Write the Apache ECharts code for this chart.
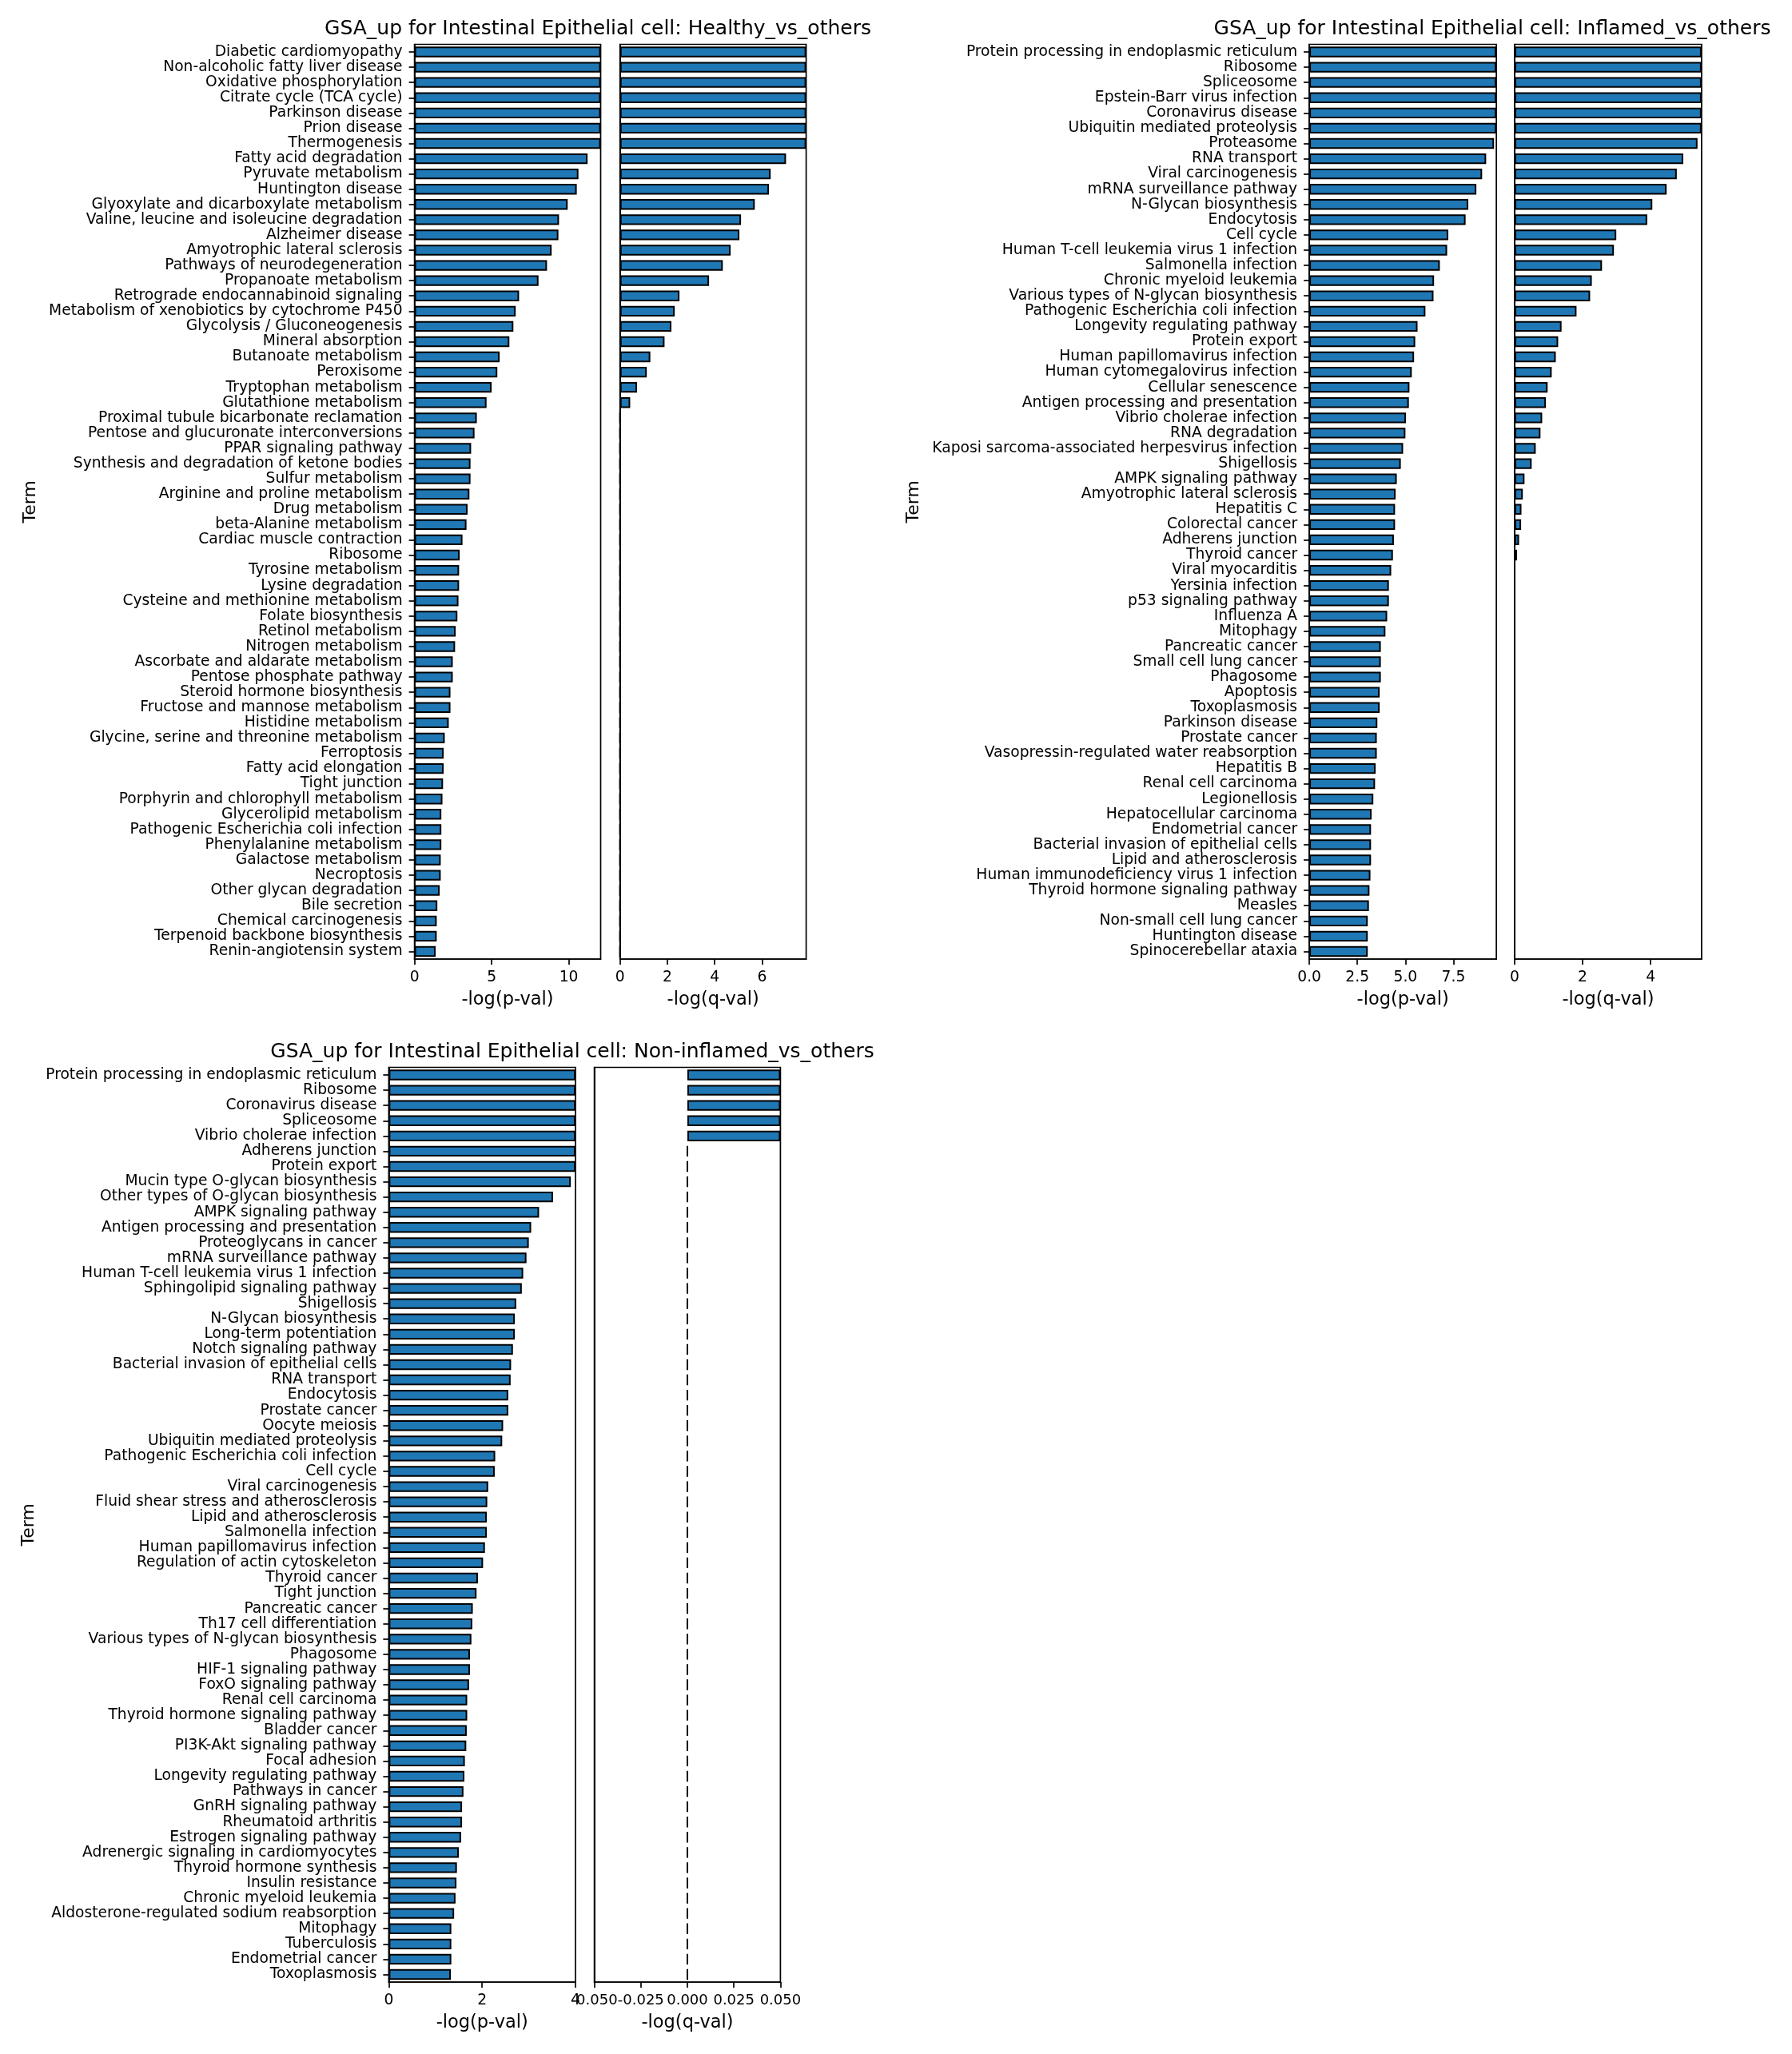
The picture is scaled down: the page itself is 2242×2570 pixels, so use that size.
<!DOCTYPE html>
<html>
<head>
<meta charset="utf-8">
<script src="https://cdn.jsdelivr.net/npm/echarts@6/dist/echarts.min.js"></script>
<style>html,body{margin:0;padding:0;background:#fff}#c{width:2242px;height:2570px}</style>
</head>
<body>
<div id="c"></div>
<script>
// ---------------- data ----------------
const titles = [
  'GSA_up for Intestinal Epithelial cell: Healthy_vs_others',
  'GSA_up for Intestinal Epithelial cell: Inflamed_vs_others',
  'GSA_up for Intestinal Epithelial cell: Non-inflamed_vs_others'
];
const pAxisName = '-log(p-val)';
const qAxisName = '-log(q-val)';
const termAxisName = 'Term';

const terms1 = ['Diabetic cardiomyopathy','Non-alcoholic fatty liver disease','Oxidative phosphorylation','Citrate cycle (TCA cycle)','Parkinson disease','Prion disease','Thermogenesis','Fatty acid degradation','Pyruvate metabolism','Huntington disease','Glyoxylate and dicarboxylate metabolism','Valine, leucine and isoleucine degradation','Alzheimer disease','Amyotrophic lateral sclerosis','Pathways of neurodegeneration','Propanoate metabolism','Retrograde endocannabinoid signaling','Metabolism of xenobiotics by cytochrome P450','Glycolysis / Gluconeogenesis','Mineral absorption','Butanoate metabolism','Peroxisome','Tryptophan metabolism','Glutathione metabolism','Proximal tubule bicarbonate reclamation','Pentose and glucuronate interconversions','PPAR signaling pathway','Synthesis and degradation of ketone bodies','Sulfur metabolism','Arginine and proline metabolism','Drug metabolism','beta-Alanine metabolism','Cardiac muscle contraction','Ribosome','Tyrosine metabolism','Lysine degradation','Cysteine and methionine metabolism','Folate biosynthesis','Retinol metabolism','Nitrogen metabolism','Ascorbate and aldarate metabolism','Pentose phosphate pathway','Steroid hormone biosynthesis','Fructose and mannose metabolism','Histidine metabolism','Glycine, serine and threonine metabolism','Ferroptosis','Fatty acid elongation','Tight junction','Porphyrin and chlorophyll metabolism','Glycerolipid metabolism','Pathogenic Escherichia coli infection','Phenylalanine metabolism','Galactose metabolism','Necroptosis','Other glycan degradation','Bile secretion','Chemical carcinogenesis','Terpenoid backbone biosynthesis','Renin-angiotensin system'];
const pval1 = [12.07,12.07,12.07,12.07,12.07,12.07,12.07,11.22,10.63,10.52,9.93,9.37,9.33,8.89,8.59,8.04,6.78,6.56,6.41,6.15,5.52,5.37,5.0,4.67,4.04,3.89,3.67,3.63,3.63,3.56,3.44,3.37,3.11,2.93,2.89,2.89,2.85,2.78,2.67,2.63,2.48,2.48,2.33,2.33,2.22,1.96,1.89,1.89,1.85,1.81,1.74,1.74,1.74,1.70,1.70,1.63,1.48,1.44,1.44,1.37];
const qval1 = [7.86,7.86,7.86,7.86,7.86,7.86,7.86,7.01,6.36,6.29,5.69,5.11,5.04,4.67,4.34,3.76,2.51,2.31,2.17,1.88,1.28,1.13,0.72,0.43,0,0,0,0,0,0,0,0,0,0,0,0,0,0,0,0,0,0,0,0,0,0,0,0,0,0,0,0,0,0,0,0,0,0,0,0];

const terms2 = ['Protein processing in endoplasmic reticulum','Ribosome','Spliceosome','Epstein-Barr virus infection','Coronavirus disease','Ubiquitin mediated proteolysis','Proteasome','RNA transport','Viral carcinogenesis','mRNA surveillance pathway','N-Glycan biosynthesis','Endocytosis','Cell cycle','Human T-cell leukemia virus 1 infection','Salmonella infection','Chronic myeloid leukemia','Various types of N-glycan biosynthesis','Pathogenic Escherichia coli infection','Longevity regulating pathway','Protein export','Human papillomavirus infection','Human cytomegalovirus infection','Cellular senescence','Antigen processing and presentation','Vibrio cholerae infection','RNA degradation','Kaposi sarcoma-associated herpesvirus infection','Shigellosis','AMPK signaling pathway','Amyotrophic lateral sclerosis','Hepatitis C','Colorectal cancer','Adherens junction','Thyroid cancer','Viral myocarditis','Yersinia infection','p53 signaling pathway','Influenza A','Mitophagy','Pancreatic cancer','Small cell lung cancer','Phagosome','Apoptosis','Toxoplasmosis','Parkinson disease','Prostate cancer','Vasopressin-regulated water reabsorption','Hepatitis B','Renal cell carcinoma','Legionellosis','Hepatocellular carcinoma','Endometrial cancer','Bacterial invasion of epithelial cells','Lipid and atherosclerosis','Human immunodeficiency virus 1 infection','Thyroid hormone signaling pathway','Measles','Non-small cell lung cancer','Huntington disease','Spinocerebellar ataxia'];
const pval2 = [9.73,9.73,9.73,9.73,9.73,9.73,9.61,9.20,8.99,8.69,8.27,8.13,7.23,7.17,6.79,6.49,6.46,6.04,5.63,5.51,5.45,5.33,5.21,5.18,5.03,5.00,4.88,4.76,4.55,4.49,4.46,4.46,4.40,4.35,4.26,4.14,4.14,4.05,3.96,3.72,3.72,3.72,3.66,3.66,3.54,3.51,3.51,3.45,3.42,3.33,3.24,3.21,3.21,3.21,3.18,3.13,3.10,3.04,3.04,3.04];
const qval2 = [5.5,5.5,5.5,5.5,5.5,5.5,5.38,4.96,4.77,4.47,4.05,3.90,2.99,2.92,2.57,2.27,2.22,1.82,1.38,1.28,1.21,1.09,0.97,0.92,0.81,0.76,0.62,0.50,0.29,0.24,0.20,0.19,0.13,0.07,0,0,0,0,0,0,0,0,0,0,0,0,0,0,0,0,0,0,0,0,0,0,0,0,0,0];

const terms3 = ['Protein processing in endoplasmic reticulum','Ribosome','Coronavirus disease','Spliceosome','Vibrio cholerae infection','Adherens junction','Protein export','Mucin type O-glycan biosynthesis','Other types of O-glycan biosynthesis','AMPK signaling pathway','Antigen processing and presentation','Proteoglycans in cancer','mRNA surveillance pathway','Human T-cell leukemia virus 1 infection','Sphingolipid signaling pathway','Shigellosis','N-Glycan biosynthesis','Long-term potentiation','Notch signaling pathway','Bacterial invasion of epithelial cells','RNA transport','Endocytosis','Prostate cancer','Oocyte meiosis','Ubiquitin mediated proteolysis','Pathogenic Escherichia coli infection','Cell cycle','Viral carcinogenesis','Fluid shear stress and atherosclerosis','Lipid and atherosclerosis','Salmonella infection','Human papillomavirus infection','Regulation of actin cytoskeleton','Thyroid cancer','Tight junction','Pancreatic cancer','Th17 cell differentiation','Various types of N-glycan biosynthesis','Phagosome','HIF-1 signaling pathway','FoxO signaling pathway','Renal cell carcinoma','Thyroid hormone signaling pathway','Bladder cancer','PI3K-Akt signaling pathway','Focal adhesion','Longevity regulating pathway','Pathways in cancer','GnRH signaling pathway','Rheumatoid arthritis','Estrogen signaling pathway','Adrenergic signaling in cardiomyocytes','Thyroid hormone synthesis','Insulin resistance','Chronic myeloid leukemia','Aldosterone-regulated sodium reabsorption','Mitophagy','Tuberculosis','Endometrial cancer','Toxoplasmosis'];
const pval3 = [4.0,4.0,4.0,4.0,4.0,4.0,4.0,3.90,3.52,3.22,3.05,3.00,2.95,2.88,2.85,2.73,2.70,2.70,2.66,2.62,2.61,2.56,2.56,2.45,2.43,2.28,2.27,2.13,2.11,2.10,2.10,2.06,2.02,1.91,1.88,1.80,1.79,1.77,1.74,1.74,1.72,1.68,1.68,1.67,1.66,1.63,1.62,1.60,1.57,1.57,1.55,1.50,1.46,1.45,1.43,1.40,1.34,1.34,1.34,1.33];
const qval3 = [0.05,0.05,0.05,0.05,0.05,0,0,0,0,0,0,0,0,0,0,0,0,0,0,0,0,0,0,0,0,0,0,0,0,0,0,0,0,0,0,0,0,0,0,0,0,0,0,0,0,0,0,0,0,0,0,0,0,0,0,0,0,0,0,0];

// axis ranges / ticks
const pRange1 = [0, 12.07], pTick1 = 5;
const qRange1 = [0, 7.86], qTick1 = 2;
const pRange2 = [0, 9.73], pTick2 = 2.5;
const qRange2 = [0, 5.5], qTick2 = 2;
const pRange3 = [0, 4.0], pTick3 = 2;
const qRange3 = [-0.05, 0.05], qTick3 = 0.025;

// ---------------- layout / style ----------------
const FONT = 'DejaVu Sans';
const BLUE = '#1f77b4';
const LW = 1.7;     // spines / ticks
const BW = 2.0;     // bar edges
const panels = [
  {title: titles[0], terms: terms1, p: pval1, q: qval1, pR: pRange1, pI: pTick1, qR: qRange1, qI: qTick1,
   pFmt: v => String(v), qFmt: v => String(v), pMaxLbl: false, qMaxLbl: false, qFont: 18.7,
   pLeft: 518.6, pW: 232.9, qLeft: 775.7, qW: 232.9, top: 55.5, h: 1144.5, tx: 748, ty: 36, termGap: 469.5},
  {title: titles[1], terms: terms2, p: pval2, q: qval2, pR: pRange2, pI: pTick2, qR: qRange2, qI: qTick2,
   pFmt: v => v.toFixed(1), qFmt: v => String(v), pMaxLbl: false, qMaxLbl: false, qFont: 18.7,
   pLeft: 1638.1, pW: 234, qLeft: 1895, qW: 233.9, top: 55.5, h: 1144.5, tx: 1867, ty: 36, termGap: 484},
  {title: titles[2], terms: terms3, p: pval3, q: qval3, pR: pRange3, pI: pTick3, qR: qRange3, qI: qTick3,
   pFmt: v => String(v), qFmt: v => v.toFixed(3), pMaxLbl: true, qMaxLbl: true, qFont: 18,
   pLeft: 486.4, pW: 233.6, qLeft: 743.6, qW: 232.8, top: 1335.5, h: 1144.5, tx: 716, ty: 1316, termGap: 439.5}
];

const option = {
  backgroundColor: '#fff',
  animation: false,
  textStyle: {fontFamily: FONT, color: '#000'},
  title: [], grid: [], xAxis: [], yAxis: [], series: []
};

panels.forEach((P) => {
  option.title.push({
    text: P.title, left: P.tx, top: P.ty, textAlign: 'center', textVerticalAlign: 'middle', padding: 0,
    textStyle: {fontFamily: FONT, fontSize: 25, fontWeight: 'normal', color: '#000'}
  });
  [['p', P.pLeft, P.pW], ['q', P.qLeft, P.qW]].forEach(([kind, left, width]) => {
    const gi = option.grid.length;
    option.grid.push({
      left: left, top: P.top, width: width, height: P.h, containLabel: false, outerBoundsMode: 'none',
      show: true, borderColor: '#000', borderWidth: LW, backgroundColor: 'transparent'
    });
    const range = kind === 'p' ? P.pR : P.qR;
    const itv = kind === 'p' ? P.pI : P.qI;
    const fmt = kind === 'p' ? P.pFmt : P.qFmt;
    option.xAxis.push({
      type: 'value', gridIndex: gi, min: range[0], max: range[1], interval: itv,
      name: kind === 'p' ? pAxisName : qAxisName, nameLocation: 'middle', nameGap: 40,
      nameTextStyle: {fontFamily: FONT, fontSize: 22.5, color: '#000'},
      axisLine: {show: true, onZero: false, lineStyle: {color: '#000', width: LW}},
      axisTick: {show: true, length: 7, lineStyle: {color: '#000', width: LW}},
      axisLabel: {fontFamily: FONT, fontSize: kind === 'p' ? 18.7 : P.qFont, color: '#000', margin: 14, formatter: fmt,
                  showMinLabel: true, showMaxLabel: kind === 'p' ? P.pMaxLbl : P.qMaxLbl, hideOverlap: false},
      splitLine: {show: false}
    });
    option.yAxis.push({
      type: 'category', gridIndex: gi, data: P.terms, inverse: true,
      name: kind === 'p' ? termAxisName : '', nameLocation: 'middle', nameGap: P.termGap, nameRotate: 90,
      nameTextStyle: {fontFamily: FONT, fontSize: 22, color: '#000'},
      axisLine: {show: true, onZero: false, lineStyle: {color: '#000', width: LW}},
      axisTick: {show: kind === 'p', alignWithLabel: true, length: 7, lineStyle: {color: '#000', width: LW}},
      axisLabel: {show: kind === 'p', interval: 0, fontFamily: FONT, fontSize: 18.7, color: '#000', margin: 15},
      splitLine: {show: false}
    });
    option.series.push({
      type: 'bar', xAxisIndex: gi, yAxisIndex: gi,
      data: kind === 'p' ? P.p : P.q,
      barWidth: '70%',
      itemStyle: {color: BLUE, borderColor: '#000', borderWidth: BW},
      emphasis: {disabled: true}
    });
  });
});

const chart = echarts.init(document.getElementById('c'), null, {renderer: 'canvas'});
chart.setOption(option);
</script>
</body>
</html>
